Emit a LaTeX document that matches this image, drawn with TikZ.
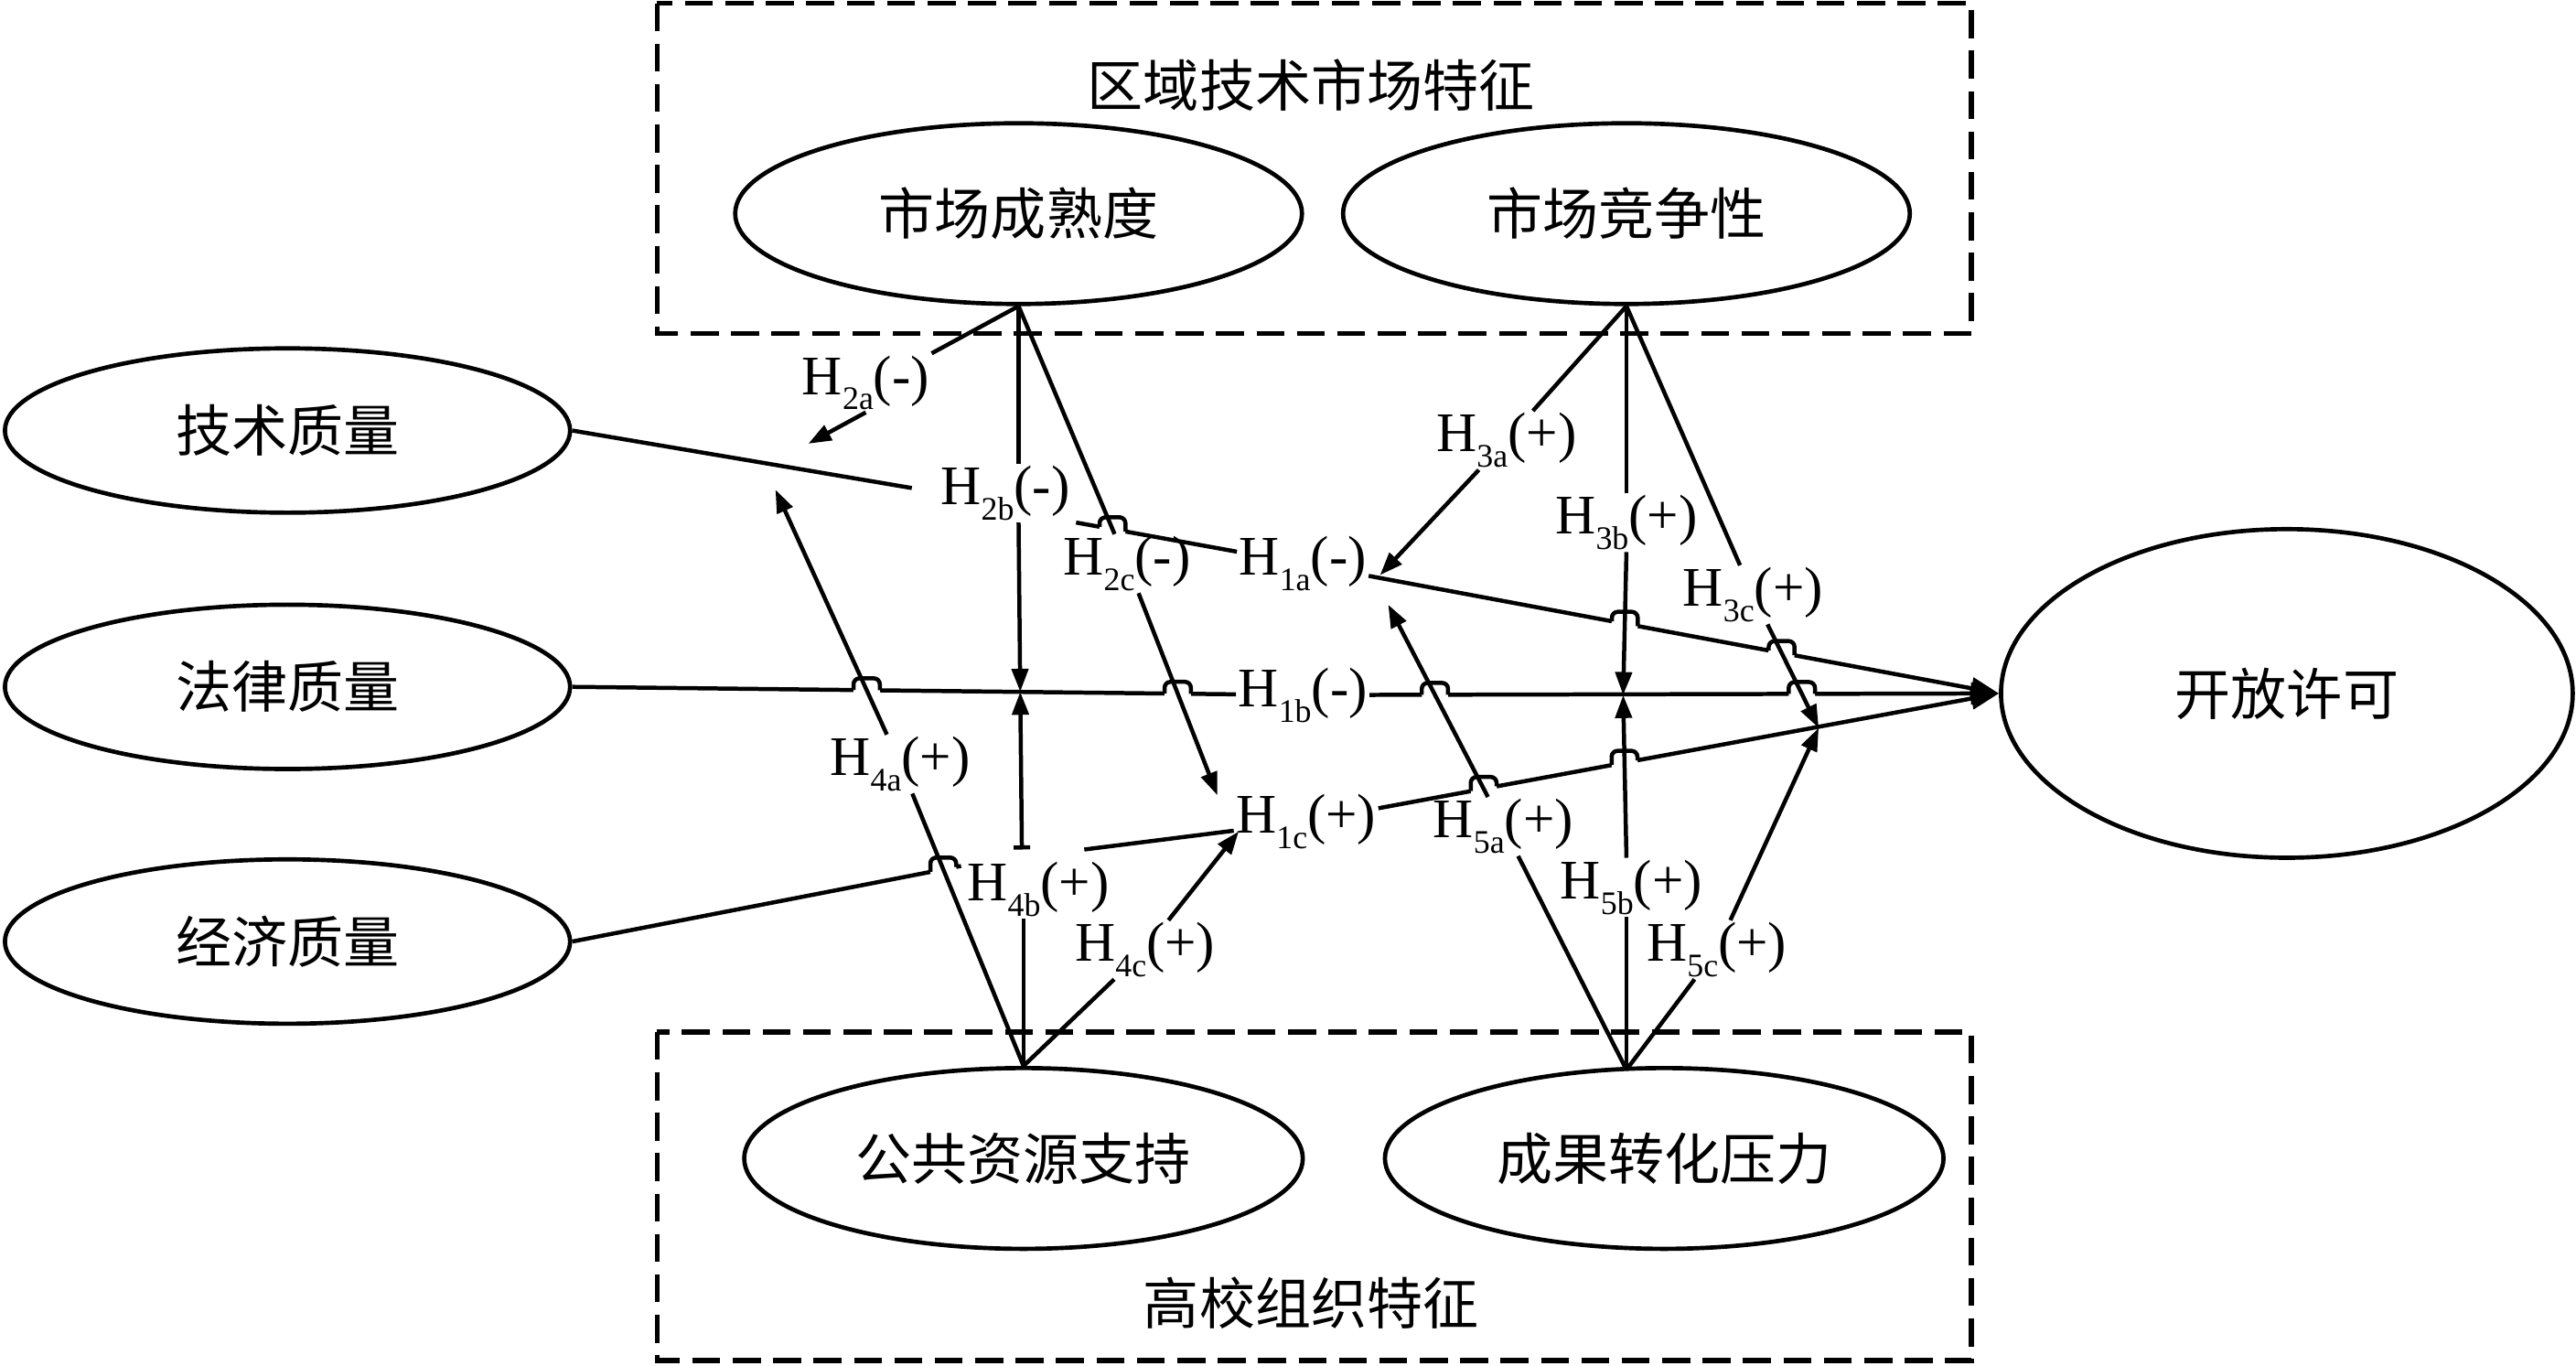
\documentclass[tikz,border=0pt]{standalone}
\usepackage{fontspec}
\setmainfont{Liberation Serif}
\newfontfamily\cjk{Noto Sans CJK SC}
\usetikzlibrary{shapes.geometric,arrows.meta,calc,intersections}
\pgfdeclarelayer{front}
\pgfsetlayers{main,front}

% hypothesis label, e.g. H_2a(-)
\newcommand\hyp[2]{H\raisebox{-0.6ex}{\fontsize{10}{11}\selectfont #1}(#2)}

% line jump at crossing #1 of a line running from #2 to #3
\newcommand\hop[3]{%
  \coordinate (hl) at ($(#1)!4pt!(#2)$);
  \coordinate (hr) at ($(#1)!4pt!(#3)$);
  \draw[white, line width=3pt] (hl) -- (hr);
  \draw[ln, rounded corners=1.8pt] (hl) |- ($(#1)+(0,3.6pt)$) -| (hr);
}

\tikzset{
  cn/.style={font=\cjk\fontsize{17}{20}\selectfont},
  oval/.style={draw, ellipse, line width=1.3pt, inner sep=0pt, cn},
  lab/.style={inner sep=0.5pt, font=\fontsize{17}{20}\selectfont},
  ln/.style={line width=1.25pt},
  arr/.style={ln, -{Triangle[length=7pt,width=5pt]}},
  bigarr/.style={ln, -{Triangle[length=8.5pt,width=6.5pt]}},
  frame/.style={line width=1.6pt, dash pattern=on 8.5pt off 3.8pt},
}

\begin{document}
\begin{tikzpicture}[x=0.5pt, y=-0.5pt]

  \useasboundingbox (0,0) rectangle (1568,831);

  % Draw the two dashed frames and their titles
  \draw[frame] (400,2) rectangle (1200,203);
  \draw[frame] (400,628) rectangle (1200,828);
  \node[cn] (mkt) at (798,52) {区域技术市场特征};
  \node[cn] (org) at (798,793) {高校组织特征};

  % Ellipses in the upper frame
  \node[oval, minimum width=172.5pt, minimum height=55pt] (mat) at (620,130) {市场成熟度};
  \node[oval, minimum width=172.5pt, minimum height=55pt] (com) at (990,130) {市场竞争性};

  % Ellipses on the left
  \node[oval, minimum width=172pt, minimum height=50pt] (tech) at (175,262) {技术质量};
  \node[oval, minimum width=172pt, minimum height=50pt] (law) at (175,418) {法律质量};
  \node[oval, minimum width=172pt, minimum height=50pt] (econ) at (175,573) {经济质量};

  % Outcome ellipse
  \node[oval, minimum width=174pt, minimum height=100pt] (open) at (1392,422) {开放许可};

  % Ellipses in the lower frame
  \node[oval, minimum width=170pt, minimum height=55pt] (pub) at (623,705) {公共资源支持};
  \node[oval, minimum width=170pt, minimum height=55pt] (pre) at (1013,705) {成果转化压力};
  \coordinate (pretop) at (990,651);

  % Hypothesis labels
  \node[lab] (h2a) at (527,233) {\hyp{2a}{-}};
  \node[lab] (h2b) at (612,300) {\hyp{2b}{-}};
  \node[lab] (h2c) at (686,343) {\hyp{2c}{-}};
  \node[lab] (h1a) at (793,343) {\hyp{1a}{-}};
  \node[lab] (h3a) at (917,268) {\hyp{3a}{+}};
  \node[lab] (h3b) at (990,318) {\hyp{3b}{+}};
  \node[lab] (h3c) at (1067,362) {\hyp{3c}{+}};
  \node[lab] (h1b) at (793,423) {\hyp{1b}{-}};
  \node[lab] (h4a) at (548,465) {\hyp{4a}{+}};
  \node[lab] (h1c) at (795,500) {\hyp{1c}{+}};
  \node[lab] (h5a) at (915,503) {\hyp{5a}{+}};
  \node[lab] (h4b) at (632,541) {\hyp{4b}{+}};
  \node[lab] (h5b) at (993,540) {\hyp{5b}{+}};
  \node[lab] (h4c) at (697,578) {\hyp{4c}{+}};
  \node[lab] (h5c) at (1045,578) {\hyp{5c}{+}};

  % Arrow ends and breaks
  \coordinate (t2a) at (492,270);
  \coordinate (t4a) at (472,298);
  \coordinate (t2c) at (741,484);
  \coordinate (t4c) at (754,506);
  \coordinate (t3a) at (840,350);
  \coordinate (t5a) at (845,368);
  \coordinate (m1) at (621,421);
  \coordinate (m2) at (988,423);
  \coordinate (m3) at (1107,443);
  \coordinate (a1) at (555,297);
  \coordinate (a2) at (655,318);
  \coordinate (c1) at (585,527);
  \coordinate (c2) at (660,517);
  \coordinate (b4) at (622,517);

  % Main paths H1a, H1b, H1c
  \draw[ln] (tech.east) -- (a1);
  \draw[ln, name path global=l1a2] (a2) -- (h1a);
  \draw[bigarr, name path global=l1a3] (h1a) -- (open.west);
  \draw[ln, name path global=l1b1] (law.east) -- (h1b);
  \draw[bigarr, name path global=l1b2] (h1b) -- (open.west);
  \draw[ln, name path global=l1c1] (econ.east) -- (c1);
  \draw[ln] (c2) -- (h1c);
  \draw[bigarr, name path global=l1c3] (h1c) -- (open.west);

  \begin{pgfonlayer}{front}
    % Market maturity: H2a, H2b, H2c
    \draw[ln] (mat.south) -- (h2a.north east);
    \draw[arr] (h2a.south) -- (t2a);
    \draw[ln] (mat.south) -- (mat.south |- h2b.north);
    \draw[arr] (mat.south |- h2b.south) -- (m1);
    \draw[ln, name path global=c2c1] (mat.south) -- (h2c);
    \draw[arr, name path global=c2c2] (h2c) -- (t2c);

    % Market competition: H3a, H3b, H3c
    \draw[ln] (com.south) -- (h3a);
    \draw[arr] (h3a) -- (t3a);
    \draw[ln] (com.south) -- (com.south |- h3b.north);
    \draw[arr, name path global=c3b2] (com.south |- h3b.south) -- (m2);
    \draw[ln] (com.south) -- (h3c);
    \draw[arr, name path global=c3c2] (h3c) -- (m3);

    % Public resource support: H4a, H4b, H4c
    \draw[ln, name path global=c4a1] (pub.north) -- (h4a);
    \draw[arr, name path global=c4a2] (h4a) -- (t4a);
    \draw[ln] (pub.north) -- (pub.north |- h4b.south);
    \draw[ln, {Bar[width=5pt]}-{Triangle[length=7pt,width=5pt]}] (b4) -- (m1);
    \draw[ln] (pub.north) -- (h4c);
    \draw[arr] (h4c) -- (t4c);

    % Transfer pressure: H5a, H5b, H5c
    \draw[ln] (pretop) -- (h5a);
    \draw[arr, name path global=c5a2] (h5a) -- (t5a);
    \draw[ln] (pretop) -- (pretop |- h5b.south);
    \draw[arr, name path global=c5b2] (pretop |- h5b.north) -- (m2);
    \draw[ln] (pretop) -- (h5c);
    \draw[arr] (h5c) -- (m3);
  \end{pgfonlayer}

  % Line jumps where the main paths cross
  \path[name intersections={of=l1a2 and c2c1, by=x1}];
  \hop{x1}{a2}{h1a}
  \path[name intersections={of=l1a3 and c3b2, by=x2}];
  \hop{x2}{h1a}{open.west}
  \path[name intersections={of=l1a3 and c3c2, by=x3}];
  \hop{x3}{h1a}{open.west}
  \path[name intersections={of=l1b1 and c4a2, by=x4}];
  \hop{x4}{law.east}{h1b}
  \path[name intersections={of=l1b1 and c2c2, by=x5}];
  \hop{x5}{law.east}{h1b}
  \path[name intersections={of=l1b2 and c5a2, by=x6}];
  \hop{x6}{h1b}{open.west}
  \path[name intersections={of=l1b2 and c3c2, by=x7}];
  \hop{x7}{h1b}{open.west}
  \path[name intersections={of=l1c1 and c4a1, by=x8}];
  \hop{x8}{econ.east}{c1}
  \path[name intersections={of=l1c3 and c5a2, by=x9}];
  \hop{x9}{h1c}{open.west}
  \path[name intersections={of=l1c3 and c5b2, by=x10}];
  \hop{x10}{h1c}{open.west}

\end{tikzpicture}
\end{document}
